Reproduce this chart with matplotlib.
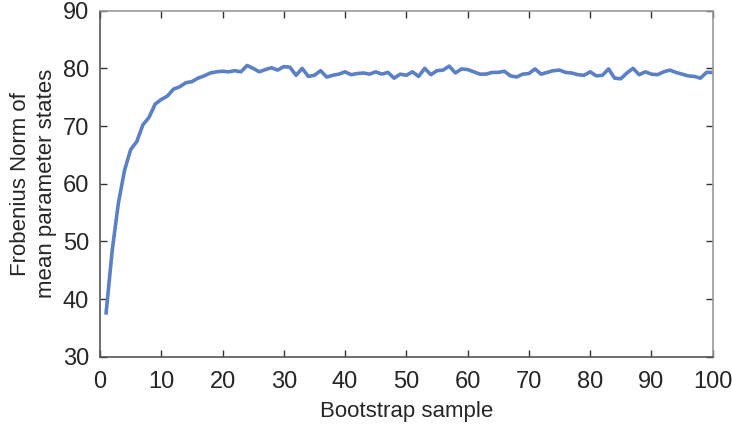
import matplotlib
matplotlib.use("Agg")
import matplotlib.pyplot as plt

# bootstrap sample index and Frobenius norm
samples = list(range(1, 101))
frob_norm = [
    37.6, 48.5, 56.6, 62.3, 65.9, 67.3, 70.2, 71.5, 73.8, 74.6,
    75.2, 76.4, 76.8, 77.5, 77.7, 78.3, 78.7, 79.2, 79.4, 79.5,
    79.4, 79.6, 79.4, 80.5, 80.0, 79.4, 79.8, 80.1, 79.7, 80.3,
    80.2, 78.8, 80.0, 78.6, 78.8, 79.6, 78.5, 78.8, 79.0, 79.4,
    78.9, 79.1, 79.2, 79.0, 79.4, 79.0, 79.3, 78.3, 79.0, 78.8,
    79.4, 78.6, 80.0, 78.9, 79.6, 79.7, 80.4, 79.2, 79.9, 79.8,
    79.4, 79.0, 79.0, 79.3, 79.3, 79.5, 78.7, 78.5, 79.0, 79.1,
    79.9, 79.0, 79.3, 79.6, 79.7, 79.3, 79.2, 78.9, 78.8, 79.4,
    78.7, 78.8, 79.9, 78.3, 78.2, 79.2, 80.0, 78.9, 79.4, 79.0,
    78.9, 79.4, 79.7, 79.3, 79.0, 78.7, 78.6, 78.3, 79.3, 79.3,
]
x_ticks = list(range(0, 101, 10))
y_ticks = list(range(30, 91, 10))

plt.rcParams['font.family'] = ['Liberation Sans', 'DejaVu Sans']

fig = plt.figure(figsize=(7.32, 4.28), dpi=100)
ax = fig.add_axes([0.1366, 0.1666, 0.837, 0.8084])

ax.plot(samples, frob_norm, color="#5b80c6", linewidth=2.6)

ax.set_xlim(0, 100)
ax.set_ylim(30, 90)
ax.set_xticks(x_ticks)
ax.set_yticks(y_ticks)
ax.tick_params(direction="in", length=5, width=1, color="#333333",
               labelsize=17, labelcolor="#262626", top=True, right=True)
ax.tick_params(axis="y", pad=8)
ax.tick_params(axis="x", pad=10)
for side in ["left", "bottom"]:
    ax.spines[side].set_color("#555555")
for side in ["top", "right"]:
    ax.spines[side].set_color("#999999")
for s in ax.spines.values():
    s.set_linewidth(1.2)

ax.set_xlabel("Bootstrap sample", fontsize=16, color="#262626", labelpad=6)
ax.set_ylabel("Frobenius Norm of\nmean parameter states", fontsize=16,
              color="#262626", labelpad=4, linespacing=1.3)

fig.savefig("out.png", dpi=100)
